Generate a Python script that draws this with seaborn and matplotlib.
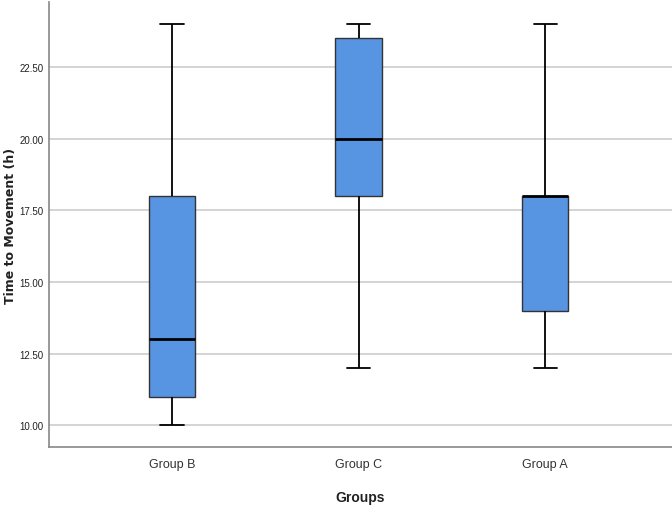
import numpy as np
import pandas as pd
import matplotlib
matplotlib.use("Agg")
import matplotlib.pyplot as plt
import seaborn as sns

groups = ["Group B", "Group C", "Group A"]
group_b = [10, 11, 11, 13, 18, 18, 24]
group_c = [12, 18, 18, 20, 23.5, 23.5, 24]
group_a = [12, 14, 14, 18, 18, 18, 24]
y_ticks = [10.0, 12.5, 15.0, 17.5, 20.0, 22.5]

df = pd.DataFrame({
    "Groups": [groups[0]] * len(group_b) + [groups[1]] * len(group_c) + [groups[2]] * len(group_a),
    "Time": group_b + group_c + group_a,
})

sns.set_style("white")
plt.rcParams["font.family"] = ["Liberation Sans", "DejaVu Sans"]

fig = plt.figure(figsize=(6.72, 5.06), dpi=100)
ax = fig.add_axes([49 / 672, 58 / 506, 1 - 49 / 672, 445 / 506])

sns.boxplot(
    data=df, x="Groups", y="Time", order=groups, ax=ax,
    whis=(0, 100), width=0.25, color="#5795E3", saturation=1,
    linecolor="#222222", linewidth=1.0,
    boxprops=dict(edgecolor="#333333", linewidth=1.0),
    medianprops=dict(color="black", linewidth=2.0),
    whiskerprops=dict(color="black", linewidth=1.3),
    capprops=dict(color="black", linewidth=1.3),
    zorder=3,
)

ax.set_ylim(9.25, 24.76)
ax.set_xlim(-0.66, 2.68)
ax.set_yticks(y_ticks)
ax.set_yticklabels([f"{v:.2f}" for v in y_ticks], fontsize=7, color="#222222")
ax.tick_params(axis="x", labelsize=9, colors="#333333", length=0, pad=8)
ax.tick_params(axis="y", length=0, pad=4)
ax.yaxis.grid(True, color="#d4d4d4", linewidth=1.4, zorder=0)
ax.set_axisbelow(True)

for s in ["top", "right"]:
    ax.spines[s].set_visible(False)
for s in ["left", "bottom"]:
    ax.spines[s].set_color("#888888")
    ax.spines[s].set_linewidth(1.2)

ax.set_xlabel("Groups", fontsize=10, fontweight="bold", color="#222222", labelpad=14)
ax.set_ylabel("Time to Movement (h)", fontsize=9, fontweight="bold", color="#222222",
              family=["DejaVu Sans"])
ax.yaxis.set_label_coords((17 - 49) / 623, 0.5)

fig.savefig("out.png", dpi=100)
